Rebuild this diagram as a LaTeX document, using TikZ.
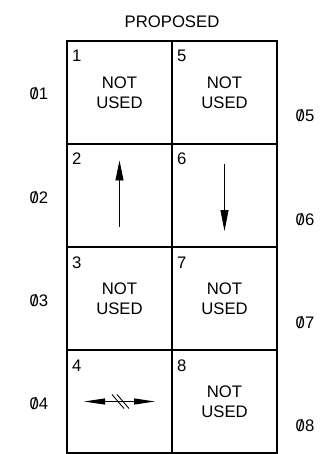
\documentclass[tikz,border=0pt]{standalone}
\usepackage{fontspec}
\setmainfont{Liberation Sans}
\usetikzlibrary{positioning,arrows.meta}
\newcommand{\phz}{\ooalign{0\cr\hidewidth/\hidewidth}}
\begin{document}
\begin{tikzpicture}[
  x=1pt, y=1pt,
  node distance=0pt,
  every node/.style={font=\fontsize{16.7}{20}\selectfont, inner sep=0pt, outer sep=0pt},
  cell/.style={draw, line width=1.2pt, minimum width=105pt, minimum height=103pt, align=center},
  idx/.style={anchor=base west},
  phase/.style={anchor=base},
  sym/.style={line width=0.9pt}
]
\useasboundingbox (0,0) rectangle (328,-454);
\node[cell] (cell1) at (119.5,-92.5) {NOT\\USED};
\node[cell] (cell2) [below=of cell1] {};
\node[cell] (cell3) [below=of cell2] {NOT\\USED};
\node[cell] (cell4) [below=of cell3] {};
\node[cell] (cell5) [right=of cell1] {NOT\\USED};
\node[cell] (cell6) [below=of cell5] {};
\node[cell] (cell7) [below=of cell6] {NOT\\USED};
\node[cell] (cell8) [below=of cell7] {NOT\\USED};
\node[anchor=base] (title) at ([yshift=13pt]cell1.north east) {PROPOSED};
% cell numbers
\node[idx] (n1) at ([xshift=5pt,yshift=-21pt]cell1.north west) {1};
\node[idx] (n2) at ([xshift=5pt,yshift=-21pt]cell2.north west) {2};
\node[idx] (n3) at ([xshift=5pt,yshift=-21pt]cell3.north west) {3};
\node[idx] (n4) at ([xshift=5pt,yshift=-21pt]cell4.north west) {4};
\node[idx] (n5) at ([xshift=5pt,yshift=-21pt]cell5.north west) {5};
\node[idx] (n6) at ([xshift=5pt,yshift=-21pt]cell6.north west) {6};
\node[idx] (n7) at ([xshift=5pt,yshift=-21pt]cell7.north west) {7};
\node[idx] (n8) at ([xshift=5pt,yshift=-21pt]cell8.north west) {8};
% phases
\node[phase] (ph1) at ([xshift=-28pt,yshift=-7.5pt]cell1.west) {\phz1};
\node[phase] (ph2) at ([xshift=-28pt,yshift=-7.5pt]cell2.west) {\phz2};
\node[phase] (ph3) at ([xshift=-28pt,yshift=-7.5pt]cell3.west) {\phz3};
\node[phase] (ph4) at ([xshift=-28pt,yshift=-7.5pt]cell4.west) {\phz4};
\node[phase] (ph5) at ([xshift=28pt,yshift=-29.5pt]cell5.east) {\phz5};
\node[phase] (ph6) at ([xshift=28pt,yshift=-29.5pt]cell6.east) {\phz6};
\node[phase] (ph7) at ([xshift=28pt,yshift=-29.5pt]cell7.east) {\phz7};
\node[phase] (ph8) at ([xshift=28pt,yshift=-29.5pt]cell8.east) {\phz8};
% movements
\draw[sym, -{Triangle[length=20pt,width=8pt]}] ([yshift=-31pt]cell2.center) -- ([yshift=35pt]cell2.center);
\draw[sym, -{Triangle[length=21pt,width=8pt]}] ([yshift=31pt]cell6.center) -- ([yshift=-35.5pt]cell6.center);
\draw[sym, {Triangle[length=21pt,width=6pt]}-{Triangle[length=21pt,width=6pt]}] ([xshift=-35.5pt]cell4.center) -- ([xshift=35.5pt]cell4.center);
\draw[sym] ([shift={(-7.5,7)}]cell4.center) -- ([shift={(4.5,-7)}]cell4.center);
\draw[sym] ([shift={(-2.5,7)}]cell4.center) -- ([shift={(9.5,-7)}]cell4.center);
\end{tikzpicture}
\end{document}
